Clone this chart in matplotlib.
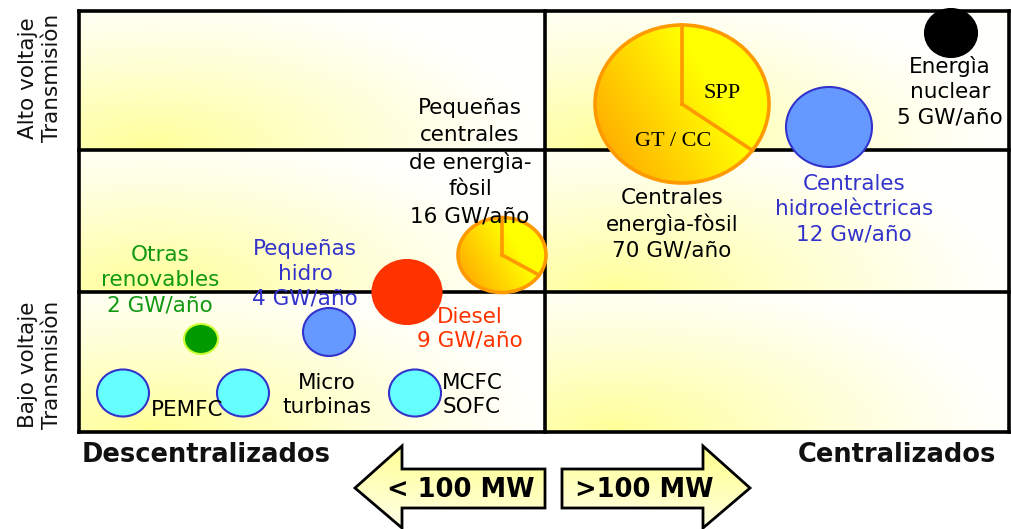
import numpy as np
import matplotlib
matplotlib.use("Agg")
import matplotlib.pyplot as plt
from matplotlib.patches import Ellipse, Polygon
from matplotlib.colors import to_rgb

# ---------------- data ----------------
# quadrant labels
row_labels = ["Alto voltaje\nTransmisiòn", "Bajo voltaje\nTransmisiòn"]
col_labels = ["Descentralizados", "Centralizados"]
arrow_labels = ["< 100 MW", ">100 MW"]

# plain bubbles
bubble_names = ["Energìa nuclear", "Centrales hidroelèctricas", "Diesel",
                "Pequeñas hidro", "Otras renovables", "PEMFC",
                "Micro turbinas", "MCFC/SOFC"]
bubble_x = [951, 829, 407, 329, 201, 123, 243, 415]
bubble_y = [33, 127, 292, 332, 339, 393, 393, 393]
bubble_w = [52, 86, 69, 52, 34, 52, 52, 52]
bubble_h = [48, 80, 64, 48, 30, 47, 47, 47]
bubble_face = ["#000000", "#6699FF", "#FF3300", "#6699FF", "#009900",
               "#66FFFF", "#66FFFF", "#66FFFF"]
bubble_edge = ["#000000", "#3333CC", "#FF3300", "#3333CC", "#CCFF33",
               "#3333CC", "#3333CC", "#3333CC"]

# pie bubbles (fossil plants), SPP share of the pie
pie_names = ["Centrales energìa-fòsil", "Pequeñas centrales de energìa-fòsil"]
pie_x = [682, 502]
pie_y = [104, 255]
pie_w = [174, 88]
pie_h = [158, 75]
pie_spp_share = [0.35, 0.34]

# text labels
label_texts = ["Pequeñas\ncentrales\nde energìa-\nfòsil\n16 GW/año",
               "Centrales\nenergìa-fòsil\n70 GW/año",
               "Energìa\nnuclear\n5 GW/año",
               "Centrales\nhidroelèctricas\n12 Gw/año",
               "Otras\nrenovables\n2 GW/año",
               "Pequeñas\nhidro\n4 GW/año",
               "Diesel\n9 GW/año",
               "PEMFC",
               "Micro\nturbinas",
               "MCFC\nSOFC"]
label_x = [470, 672, 950, 854, 160, 305, 470, 187, 327, 472]
label_y = [162, 224, 92, 209, 280, 274, 329, 410, 395, 395]
label_colors = ["black", "black", "black", "#3333CC", "#119911", "#3333CC",
                "#FF3300", "black", "black", "black"]

# ---------------- figure ----------------
W, H = 1011, 529
fig = plt.figure(figsize=(W / 100, H / 100), dpi=100)
ax = fig.add_axes([0, 0, 1, 1])
ax.axis("off")


def grad(nx, ny, c0, c1, fn):
    u = np.linspace(0, 1, nx)[None, :]
    v = np.linspace(1, 0, ny)[:, None]
    t = np.clip(fn(u, v), 0, 1)[..., None]
    a = np.array(to_rgb(c0))
    b = np.array(to_rgb(c1))
    return a * (1 - t) + b * t


# grid geometry
col_edges = [79, 545, 1008.5]
row_edges = [10.5, 150, 292, 431.5]

# cell backgrounds (yellow at lower-left fading to white)
def cell_fn(u, v):
    d = np.sqrt(((u - 0.15) / 0.85) ** 2 + (v / 1.15) ** 2)
    return 0.03 + 0.97 * np.clip(1 - d, 0, 1) ** 1.2

for i in range(2):
    for j in range(3):
        x0, x1 = col_edges[i], col_edges[i + 1]
        y0, y1 = row_edges[j], row_edges[j + 1]
        img = grad(200, 80, "#FFFFFF", "#FFFF99", cell_fn)
        ax.imshow(img, extent=(x0, x1, y1, y0), origin="upper",
                  interpolation="bilinear", zorder=0, aspect="auto")

lw_grid = 2.6
for x in col_edges:
    ax.plot([x, x], [row_edges[0], row_edges[-1]], color="black", lw=lw_grid,
            zorder=1, solid_capstyle="projecting")
for y in row_edges:
    ax.plot([col_edges[0], col_edges[-1]], [y, y], color="black", lw=lw_grid,
            zorder=1, solid_capstyle="projecting")

# plain bubbles
for x, y, w, h, fc, ec in zip(bubble_x, bubble_y, bubble_w, bubble_h,
                              bubble_face, bubble_edge):
    ax.add_patch(Ellipse((x, y), w, h, facecolor=fc, edgecolor=ec, lw=1.5,
                         zorder=3))

# pies with gradient
def pie_fn(u, v):
    return 0.05 + 0.95 * u + 0.5 * v

for cx, cy, w, h, frac in zip(pie_x, pie_y, pie_w, pie_h, pie_spp_share):
    rx, ry = w / 2, h / 2
    clip = Ellipse((cx, cy), w, h, facecolor="none", edgecolor="none",
                   transform=ax.transData)
    ax.add_patch(clip)
    img = grad(80, 80, "#FF9900", "#FFFF00", pie_fn)
    im = ax.imshow(img, extent=(cx - rx, cx + rx, cy + ry, cy - ry),
                   origin="upper", interpolation="bilinear", zorder=3,
                   aspect="auto")
    im.set_clip_path(clip)
    ax.add_patch(Ellipse((cx, cy), w, h, facecolor="none",
                         edgecolor="#FF9900", lw=2.6, zorder=4))
    ang = 2 * np.pi * frac
    ex, ey = cx + rx * np.sin(ang), cy - ry * np.cos(ang)
    ax.plot([cx, cx], [cy, cy - ry], color="#FF9900", lw=2.6, zorder=4)
    ax.plot([cx, ex], [cy, ey], color="#FF9900", lw=2.6, zorder=4)

# pie inner labels
ax.text(722, 94, "SPP", family="Liberation Serif", fontsize=16,
        ha="center", va="center", zorder=5)
ax.text(673, 142, "GT / CC", family="Liberation Serif", fontsize=16,
        ha="center", va="center", zorder=5)

# labels
label_spacing = [1.42, 1.33, 1.33, 1.33, 1.33, 1.3, 1.2, 1.2, 1.2, 1.2]
for t, x, y, c, ls in zip(label_texts, label_x, label_y, label_colors,
                          label_spacing):
    ax.text(x, y, t, color=c, fontsize=15.5, ha="center", va="center",
            linespacing=ls, zorder=6, family="DejaVu Sans")

# row labels (rotated)
for t, y in zip(row_labels, [78, 365]):
    ax.text(40, y, t, rotation=90, fontsize=15.5, ha="center", va="center",
            linespacing=1.25, color="#111111")

# column labels
ax.text(82, 455, col_labels[0], fontsize=18.5, fontweight="bold",
        ha="left", va="center", color="#111111")
ax.text(996, 455, col_labels[1], fontsize=18.5, fontweight="bold",
        ha="right", va="center", color="#111111")

# arrows
left_arrow = [(355, 488), (402, 446), (402, 469), (545, 469), (545, 508),
              (402, 508), (402, 528)]
right_arrow = [(562, 469), (703, 469), (703, 446), (750, 488), (703, 528),
               (703, 508), (562, 508)]

def arrow_fn(u, v):
    return 0.2 + 0.8 * v + 0.15 * u

for pts in (left_arrow, right_arrow):
    poly = Polygon(pts, closed=True, facecolor="none", edgecolor="none")
    ax.add_patch(poly)
    xs = [p[0] for p in pts]
    ys = [p[1] for p in pts]
    img = grad(60, 60, "#FFFFFF", "#FFFF99", arrow_fn)
    im = ax.imshow(img, extent=(min(xs), max(xs), max(ys), min(ys)),
                   origin="upper", interpolation="bilinear", zorder=3,
                   aspect="auto")
    im.set_clip_path(poly)
    ax.add_patch(Polygon(pts, closed=True, facecolor="none",
                         edgecolor="black", lw=2.0, zorder=4,
                         joinstyle="miter"))

ax.text(461, 490, arrow_labels[0], fontsize=18.5, fontweight="bold",
        ha="center", va="center", zorder=5)
ax.text(644, 490, arrow_labels[1], fontsize=18.5, fontweight="bold",
        ha="center", va="center", zorder=5)

ax.set_xlim(0, W)
ax.set_ylim(H, 0)
fig.savefig("out.png", dpi=100)
